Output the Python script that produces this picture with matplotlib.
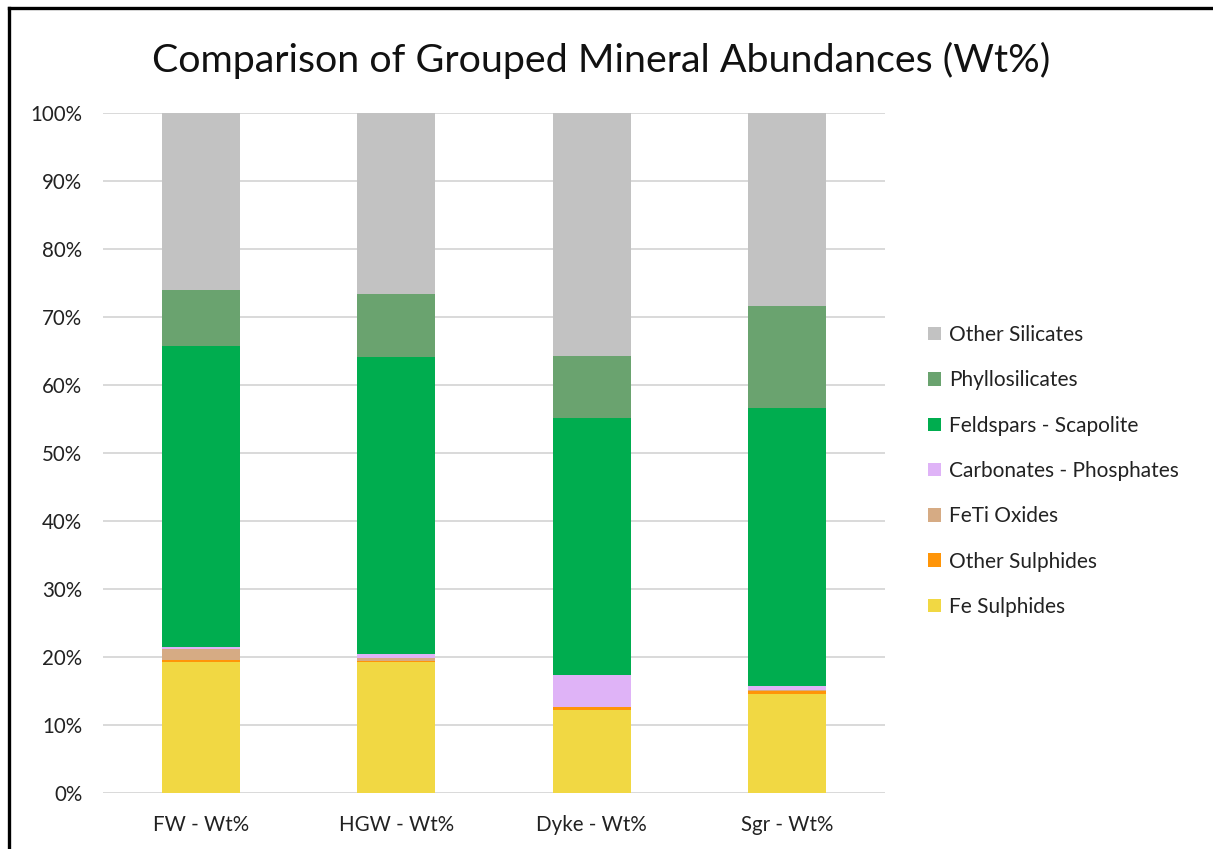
import matplotlib
matplotlib.use("Agg")
import matplotlib.pyplot as plt
from matplotlib.lines import Line2D
from matplotlib.patches import Patch
import numpy as np

plt.rcParams['font.family'] = ['Lato', 'DejaVu Sans']

samples = ["FW - Wt%", "HGW - Wt%", "Dyke - Wt%", "Sgr - Wt%"]

# stacking order, bottom to top
groups = ["Fe Sulphides", "Other Sulphides", "FeTi Oxides", "Carbonates - Phosphates",
          "Feldspars - Scapolite", "Phyllosilicates", "Other Silicates"]

fe_sulphides = [19.2, 19.2, 12.25, 14.5]
other_sulphides = [0.35, 0.2, 0.35, 0.5]
feti_oxides = [1.6, 0.4, 0.05, 0.1]
carbonates_phosphates = [0.35, 0.7, 4.75, 0.6]
feldspars_scapolite = [44.2, 43.6, 37.8, 40.9]
phyllosilicates = [8.3, 9.3, 9.0, 15.0]
other_silicates = [26.0, 26.6, 35.8, 28.4]

series = [fe_sulphides, other_sulphides, feti_oxides, carbonates_phosphates,
          feldspars_scapolite, phyllosilicates, other_silicates]
colors = ["#F1D843", "#FF9508", "#D6AB84", "#DFB3F7",
          "#00AD4F", "#6AA36F", "#C2C2C2"]

W, H = 1213, 849
fig = plt.figure(figsize=(W / 100, H / 100), dpi=100)
fig.patch.set_facecolor("white")

ax = fig.add_axes([103 / W, 1 - 793 / H, (885 - 103) / W, (793 - 113) / H])

x = np.arange(len(samples))
bottom = np.zeros(len(samples))
for vals, col, name in zip(series, colors, groups):
    ax.bar(x, vals, width=0.4, bottom=bottom, color=col, linewidth=0, label=name, zorder=3)
    bottom += np.array(vals)

ax.set_xlim(-0.5, len(samples) - 0.5)
ax.set_ylim(0, 100)
ax.set_yticks(np.arange(0, 101, 10))
ax.set_yticklabels([f"{v}%" for v in range(0, 101, 10)])
ax.set_xticks(x)
ax.set_xticklabels(samples)
ax.tick_params(axis="y", length=0, pad=15, labelsize=14.8, labelcolor="#222222")
ax.tick_params(axis="x", length=0, pad=16, labelsize=14.8, labelcolor="#222222")
ax.grid(axis="y", color="#D9D9D9", linewidth=1.4, zorder=0)
for s in ax.spines.values():
    s.set_visible(False)

fig.text(601 / W, 1 - 60 / H, "Comparison of Grouped Mineral Abundances (Wt%)",
         ha="center", va="center", fontsize=28.4, color="#111111")

handles = [Patch(facecolor=c, edgecolor="none") for c in colors][::-1]
labels = groups[::-1]
fig.legend(handles, labels, loc="upper left", bbox_to_anchor=(928 / W, 1 - 325 / H),
           frameon=False, fontsize=15, handlelength=0.62, handleheight=0.62,
           handletextpad=0.4, labelspacing=1.215, borderaxespad=0, borderpad=0,
           labelcolor="#222222")

# outer frame: top and left edges
fig.add_artist(Line2D([9 / W, 1], [1 - 8 / H, 1 - 8 / H], color="black", linewidth=2.4,
                      transform=fig.transFigure))
fig.add_artist(Line2D([9 / W, 9 / W], [0, 1 - 8 / H], color="black", linewidth=2.4,
                      transform=fig.transFigure))

fig.savefig("out.png", dpi=100, facecolor="white")
